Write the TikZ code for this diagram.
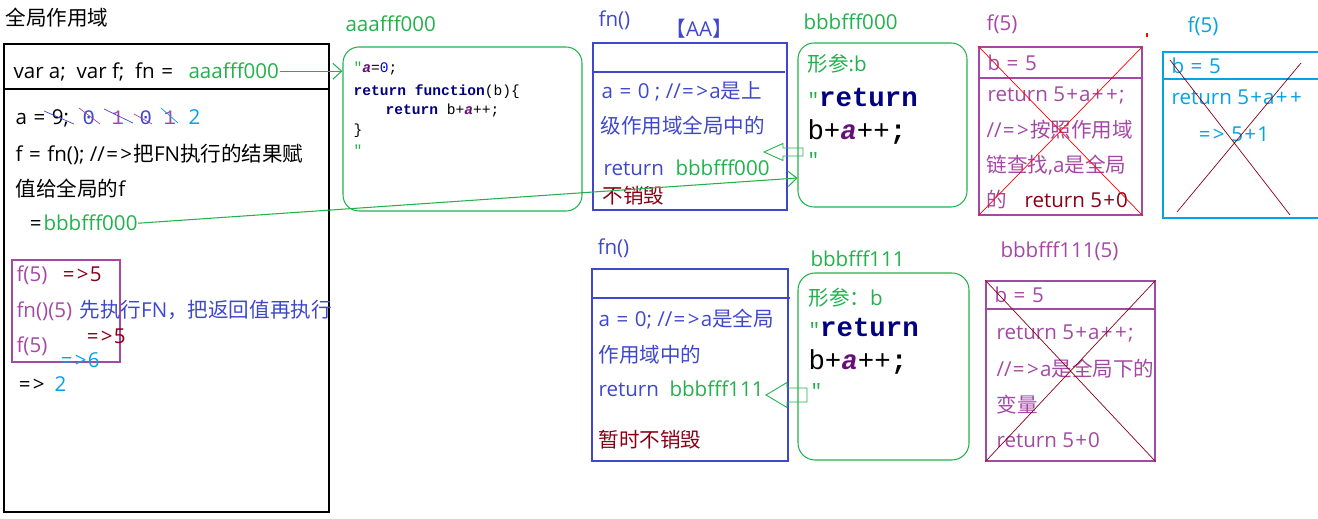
\documentclass[tikz,border=0pt]{standalone}
\usepackage{fontspec}
\setmainfont{Open Sans}
\setmonofont{Liberation Mono}
\newfontfamily\cjk{Noto Sans CJK SC}
\newcommand\zh[1]{{\cjk #1}}
\newcommand\txtsz{\fontsize{11.7}{14}\selectfont}
\newcommand\wg[1]{\kern0.7pt\relax#1\kern0.7pt\relax}
\newcommand\ar{\wg{=}\wg{>}}
\usetikzlibrary{fit,arrows.meta}
\definecolor{grn}{RGB}{34,177,76}
\definecolor{blu}{RGB}{63,72,204}
\definecolor{pur}{RGB}{163,73,164}
\definecolor{dred}{RGB}{136,0,21}
\definecolor{cya}{RGB}{0,162,232}
\definecolor{navy}{RGB}{0,0,128}
\definecolor{cpur}{RGB}{102,14,122}
\newcommand\va{{\color{cpur}\bfseries\itshape a}}

\begin{document}
\begin{tikzpicture}[x=0.02cm, y=-0.02cm, line width=0.6pt,
  lbl/.style={anchor=base west, inner sep=0pt, font=\txtsz, text=#1}, lbl/.default=black,
  code/.style={lbl, font=\ttfamily\fontsize{8.3}{10}\selectfont},
  bigcode/.style={lbl, font=\ttfamily\fontsize{15.6}{18}\selectfont},
  box/.style={draw=#1, inner sep=0pt},
  membox/.style={box=grn, rounded corners=0.32cm},
  gline/.style={grn, -{Straight Barb[length=5pt, width=9pt]}},
  retarrow/.style={draw=grn, line width=0.5pt}]
\useasboundingbox (0,0) rectangle (1318,519);
\clip (0,0) rectangle (1318,519);

% global scope
\path (5,26) node[lbl] (title) {\zh{全局作用域}};
\node[box=black, fit={(4,44) (329,512)}] (glob) {};
\draw (glob.west |- 0,89) -- (glob.east |- 0,89);
\path (13,79) node[lbl] (decl) {var a;\ \ var f;\ \ fn \wg{=}};
\path (188,79) node[lbl=grn] (fnref) {aaafff000};
\path (15,125) node[lbl] (aset) {a \wg{=} 9;};
\path (82,125) node[lbl=blu, font=\ttfamily\txtsz] (d1) {0};
\path (111,125) node[lbl=pur, font=\ttfamily\txtsz] (d2) {1};
\path (139,125) node[lbl=blu, font=\ttfamily\txtsz] (d3) {0};
\path (163,125) node[lbl=pur, font=\ttfamily\txtsz] (d4) {1};
\path (188,125) node[lbl=cya] (d5) {2};
\draw[blu, line width=0.4pt] (44,111) -- (74,124);
\draw[pur, line width=0.4pt] (79,108) -- (100,124);
\draw[blu, line width=0.4pt] (104,109) -- (133,123);
\draw[pur, line width=0.4pt] (134,114) -- (152,124);
\draw[cya, line width=0.4pt] (161,108) -- (178,123);
\path (15,162) node[lbl] (fset) {f \wg{=} fn(); //\ar\zh{把}FN\zh{执行的结果赋}};
\path (15,197) node[lbl] (fset2) {\zh{值给全局的}f};
\path (28,231) node[lbl] (eq) {\wg{=}};
\path (43,231) node[lbl=grn] (fres) {bbbfff000};

% calls
\node[box=pur, fit={(12,260) (120,362)}] (calls) {};
\path (16,282) node[lbl=pur] (c1) {f(5)};
\path (61,282) node[lbl=dred] (r1) {\ar5};
\path (16,318) node[lbl=pur] (c2) {fn()(5)};
\path (79,318) node[lbl=blu] (note) {\zh{先执行}FN\zh{，把返回值再执行}};
\path (85,344) node[lbl=dred] (r2) {\ar5};
\path (16,353) node[lbl=pur] (c3) {f(5)};
\path (59,368) node[lbl=cya] (r3) {\ar6};
\path (17,392) node[lbl] (r4) {\ar};
\path (54,392) node[lbl=cya] (r4v) {2};

% heap aaafff000
\path (345,32) node[lbl=grn] (heapA) {aaafff000};
\node[membox, fit={(343,47) (582,211)}] (codeA) {};
\path (353,73) node[code] (l1) {{\color{grn}"}\va={\color{blue}0};};
\path (353,96) node[code] (l2) {{\bfseries\color{navy}return function}(b)\{};
\path (385,115) node[code] (l3) {{\bfseries\color{navy}return} b+\va++;};
\path (353,135) node[code] (l4) {\}};
\path (353,156) node[code, text=grn] (l5) {"};

% fn() first run
\path (598,27) node[lbl=blu] (fnA-t) {fn()};
\path (665,37) node[lbl=blu] (tag) {\zh{【}AA\zh{】}};
\node[box=blu, fit={(593,43) (787,210)}] (fnA) {};
\draw[blu] (fnA.west |- 0,72) -- (785,72);
\path (601,99) node[lbl=blu] (fa1) {a \wg{=} 0 ; //\ar a\zh{是上}};
\path (600,134) node[lbl=blu] (fa2) {\zh{级作用域全局中的}};
\path (603,176) node[lbl=blu] (fa3) {return};
\path (675,176) node[lbl=grn] (fa3v) {bbbfff000};
\path (602,204) node[lbl=dred] (fa4) {\zh{不销毁}};

% heap bbbfff000
\path (803,30) node[lbl=grn] (heapB) {bbbfff000};
\node[membox, fit={(798,43) (967,207)}] (bodyA) {};
\path (807,72) node[lbl=grn] (pa1) {\zh{形参}:b};
\path (807,107) node[bigcode] (pa2) {{\color{grn}\fontsize{11}{12}\selectfont"}{\bfseries\color{navy}return}};
\path (807,140) node[bigcode] (pa3) {b+\va++{\bfseries;}};
\path (807,167) node[bigcode, text=grn, font=\ttfamily\fontsize{11}{12}\selectfont] (pa4) {"};

% f(5) first call
\path (986,31) node[lbl=pur] (fB-t) {f(5)};
\node[box=pur, fit={(979,47) (1142,215)}] (fB) {};
\draw[pur] (fB.west |- 0,78) -- (fB.east |- 0,78);
\path (987,71) node[lbl=pur] (fb1) {b \wg{=} 5};
\path (987,102) node[lbl=pur] (fb2) {return 5\wg{+}a\wg{+}\wg{+};};
\path (986,138) node[lbl=pur] (fb3) {//\ar\zh{按照作用域}};
\path (986,173) node[lbl=pur] (fb4) {\zh{链查找},a\zh{是全局}};
\path (986,208) node[lbl=pur] (fb5) {\zh{的}};
\path (1024,208) node[lbl=dred] (fb6) {return 5\wg{+}0};
\draw[red, line width=0.4pt] (fB.north west) -- (fB.south east) (fB.north east) -- (fB.south west);
\draw[red] (1147,33) -- (1147,37);

% f(5) second call
\path (1187,33) node[lbl=cya] (fC-t) {f(5)};
\node[box=cya, fit={(1163,52) (1330,218)}] (fC) {};
\draw[cya] (fC.west |- 0,79) -- (fC.east |- 0,79);
\path (1171,74) node[lbl=cya] (fc1) {b \wg{=} 5};
\path (1171,105) node[lbl=cya] (fc2) {return 5\wg{+}a\wg{+}\wg{+}};
\path (1197,142) node[lbl=cya] (fc3) {\ar\ 5\wg{+}1};
\draw[dred, line width=0.4pt] (1170,60) -- (1290,215) (1301,63) -- (1177,212);

% fn() second run
\path (597,255) node[lbl=blu] (fnB-t) {fn()};
\node[box=blu, fit={(592,269) (788,461)}] (fnB) {};
\draw[blu] (fnB.west |- 0,298) -- (790,298);
\path (598,327) node[lbl=blu] (fd1) {a \wg{=} 0; //\ar a\zh{是全局}};
\path (598,363) node[lbl=blu] (fd2) {\zh{作用域中的}};
\path (598,397) node[lbl=blu] (fd3) {return};
\path (669,397) node[lbl=grn] (fd3v) {bbbfff111};
\path (598,448) node[lbl=dred] (fd4) {\zh{暂时不销毁}};

% heap bbbfff111
\path (810,267) node[lbl=grn] (heapC) {bbbfff111};
\node[membox, rounded corners=0.34cm, fit={(798,273) (969,460)}] (bodyB) {};
\path (808,306) node[lbl=grn] (pb1) {\zh{形参：}b};
\path (808,337) node[bigcode] (pb2) {{\color{grn}\fontsize{11}{12}\selectfont"}{\bfseries\color{navy}return}};
\path (808,370) node[bigcode] (pb3) {b+\va++{\bfseries;}};
\path (810,398) node[bigcode, text=grn, font=\ttfamily\fontsize{11}{12}\selectfont] (pb4) {"};

% bbbfff111(5)
\path (1000,258) node[lbl=pur] (fD-t) {bbbfff111(5)};
\node[box=pur, fit={(986,281) (1155,461)}] (fD) {};
\draw[pur] (fD.west |- 0,309) -- (fD.east |- 0,309);
\path (994,303) node[lbl=pur] (fd-1) {b \wg{=} 5};
\path (996,340) node[lbl=pur] (fd-2) {return 5\wg{+}a\wg{+}\wg{+};};
\path (996,377) node[lbl=pur] (fd-3) {//\ar a\zh{是全局下的}};
\path (996,413) node[lbl=pur] (fd-4) {\zh{变量}};
\path (996,448) node[lbl=pur] (fd-5) {return 5\wg{+}0};
\draw[dred, line width=0.4pt] (fD.north west) -- (fD.south east) (fD.north east) -- (fD.south west);

% connectors
\draw[gline] (fnref.east) -- (codeA.west |- fnref.east);
\draw[gline] (fres.east) -- (bodyA.west |- 0,178);
\draw[retarrow] (764,152) -- (783,143.5) -- (783,148) -- (803,148) -- (803,156) -- (783,156) -- (783,160.5) -- cycle;
\draw[retarrow] (766,395) -- (787,382.5) -- (787,388) -- (807,388) -- (807,402) -- (787,402) -- (787,407.5) -- cycle;
\end{tikzpicture}
\end{document}
